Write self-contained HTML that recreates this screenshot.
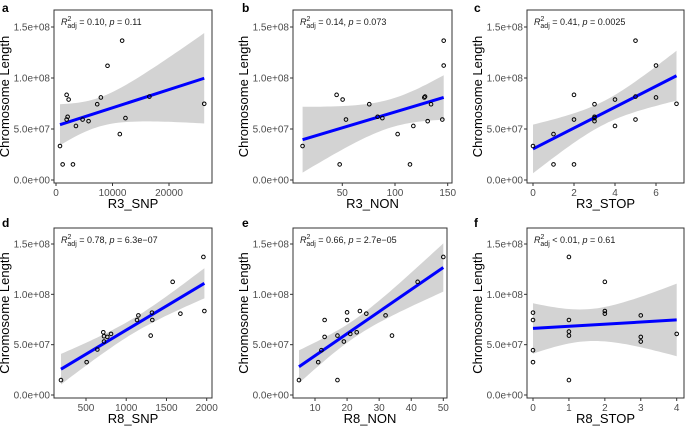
<!DOCTYPE html>
<html><head><meta charset="utf-8"><style>
body{margin:0;background:#fff}
svg{display:block;font-family:"Liberation Sans",Arial,sans-serif}
.tick{font-size:10px;fill:#4d4d4d}
.ttl{font-size:13px;fill:#000}
.ann{font-size:9px;fill:#1a1a1a}
.lbl{font-size:12px;font-weight:bold;fill:#000}
</style></head><body>
<svg id="chart" width="685" height="427"></svg>
<script>
const aX=[706,1176,1882,2235,1882,2059,3000,3529,4706,5765,7294,7941,9118,11294,11706,12294,16529,26235];
const aY=[33.3,15.3,83.5,78.9,59.3,62.0,15.3,53.0,59.3,57.7,74.3,80.9,112,45.0,136.6,60.7,81.8,74.7];
const bX=[12.3,44.6,47.5,50.3,53.5,75.6,83.5,88.0,102.5,114.2,117.4,127.8,128.5,131.0,134.2,144.9,146.2,146.2];
const bY=[33.3,83.5,15.3,78.9,59.3,74.3,62.0,60.7,45.0,15.3,53.0,80.9,81.8,57.7,74.3,59.3,136.6,112.2];
const cX=[0,1,1,2,2,2,3,3,3,3,4,4,5,5,5,6,6,7];
const cY=[33.3,45.0,15.3,83.5,59.3,15.3,74.3,62.0,60.7,57.7,78.9,53.0,136.6,81.8,59.3,112.2,80.9,74.7];
const dX=[189,508,641,715,724,724,765,811,1134,1151,1304,1320,1324,1577,1673,1959,1971];
const dY=[14.8,32.6,45.2,62.3,53.1,58.4,57.7,60.7,74.5,79.1,59.0,81.8,74.5,112.4,80.8,137.1,83.4];
const eX=[5,11,12,13,13,17,17,19,20,20,21,23,24,26,32,34,42,50];
const eY=[14.8,32.6,44.5,57.7,74.5,59.0,14.8,53.1,82.1,74.5,60.7,62.3,83.4,80.8,79.1,59.0,112.4,137.1];
const fX=[0,0,0,0,1,1,1,1,1,2,2,2,3,3,3,4];
const fY=[81.8,74.5,44.5,32.6,137.1,74.5,63.0,59.0,14.8,112.4,83.4,80.8,79.1,57.7,53.1,60.7];
const aTicks=[0,10000,20000], bTicks=[50,100,150], cTicks=[0,2,4,6];
const dTicks=[500,1000,1500,2000], eTicks=[10,20,30,40,50], fTicks=[0,1,2,3,4];
const yTicks=[0,50,100,150];
const yTickLabels=["0.0e+00","5.0e+07","1.0e+08","1.5e+08"];

const NS="http://www.w3.org/2000/svg";
const svg=document.getElementById('chart');
function mk(tag,attrs,parent,text){const e=document.createElementNS(NS,tag);for(const k in attrs)e.setAttribute(k,attrs[k]);if(text!==undefined)e.textContent=text;(parent||svg).appendChild(e);return e;}

const panels=[
 {id:'a',xs:aX,ys:aY,ticks:aTicks,title:'R3_SNP',r2:'= 0.10',p:'= 0.11',L:54,R:212,T:10,B:183,ax:[0,56,20000,169],y0:180,y150:27,lx:2,ly:12},
 {id:'b',xs:bX,ys:bY,ticks:bTicks,title:'R3_NON',r2:'= 0.14',p:'= 0.073',L:293,R:452,T:10,B:183,ax:[50,342.3,150,447.7],y0:180,y150:27,lx:242,ly:12},
 {id:'c',xs:cX,ys:cY,ticks:cTicks,title:'R3_STOP',r2:'= 0.41',p:'= 0.0025',L:527,R:684,T:10,B:183,ax:[0,533,6,656],y0:180,y150:27,lx:474,ly:12},
 {id:'d',xs:dX,ys:dY,ticks:dTicks,title:'R8_SNP',r2:'= 0.78',p:'= 6.3e\u221207',L:54,R:212,T:228,B:398,ax:[500,86,2000,206.7],y0:395,y150:244,lx:2,ly:227},
 {id:'e',xs:eX,ys:eY,ticks:eTicks,title:'R8_NON',r2:'= 0.66',p:'= 2.7e\u221205',L:293,R:447,T:228,B:398,ax:[10,315,50,443.3],y0:395,y150:244,lx:242,ly:227},
 {id:'f',xs:fX,ys:fY,ticks:fTicks,title:'R8_STOP',r2:'< 0.01',p:'= 0.61',L:527,R:684,T:228,B:398,ax:[0,533,4,676.7],y0:395,y150:244,lx:474,ly:227}
];

panels.forEach(P=>{
  const g=mk('g',{});  
  const sx=v=>P.ax[1]+(v-P.ax[0])*(P.ax[3]-P.ax[1])/(P.ax[2]-P.ax[0]);
  const sy=v=>P.y0+(v/150)*(P.y150-P.y0);
  const n=P.xs.length;
  const mx=P.xs.reduce((s,v)=>s+v,0)/n, my=P.ys.reduce((s,v)=>s+v,0)/n;
  let sxx=0,sxy=0; for(let i=0;i<n;i++){sxx+=(P.xs[i]-mx)**2;sxy+=(P.xs[i]-mx)*(P.ys[i]-my);}
  const b=sxy/sxx, a=my-b*mx;
  let sse=0; for(let i=0;i<n;i++){sse+=(P.ys[i]-a-b*P.xs[i])**2;}
  const s=Math.sqrt(sse/(n-2)), t=2.12;
  const xmin=Math.min(...P.xs), xmax=Math.max(...P.xs);
  const up=[],lo=[];
  for(let k=0;k<=40;k++){const x=xmin+(xmax-xmin)*k/40;const yh=a+b*x;const se=t*s*Math.sqrt(1/n+(x-mx)**2/sxx);
    up.push(sx(x).toFixed(1)+','+sy(yh+se).toFixed(1)); lo.unshift(sx(x).toFixed(1)+','+sy(yh-se).toFixed(1));}
  const band=mk('polygon',{points:up.concat(lo).join(' '),fill:'#d3d3d3'},g);
  
  
  const ln=mk('line',{x1:sx(xmin),y1:sy(a+b*xmin),x2:sx(xmax),y2:sy(a+b*xmax),stroke:'#0000ff','stroke-width':3},g);
  
  
  for(let i=0;i<n;i++){
    const c=mk('circle',{cx:sx(P.xs[i]),cy:sy(P.ys[i]),r:1.8,fill:'none',stroke:'#000','stroke-width':1},g);
    
    
  }
  const box=mk('rect',{x:P.L,y:P.T,width:P.R-P.L,height:P.B-P.T,fill:'none',stroke:'#333','stroke-width':1},g);
  
  
  yTicks.forEach((v,i)=>{
    mk('line',{x1:P.L-3,x2:P.L,y1:sy(v),y2:sy(v),stroke:'#333'},g);
    const tx=mk('text',{x:P.L-4,y:sy(v)+3.5,'text-anchor':'end',class:'tick'},g,yTickLabels[i]);
    
    
  });
  P.ticks.forEach(v=>{
    mk('line',{x1:sx(v),x2:sx(v),y1:P.B,y2:P.B+3,stroke:'#333'},g);
    const tx=mk('text',{x:sx(v),y:P.B+13,'text-anchor':'middle',class:'tick'},g,String(v));
    
    
  });
  const xt=mk('text',{x:(P.L+P.R)/2,y:P.B+25,'text-anchor':'middle',class:'ttl'},g,P.title);
  
  
  const ycx=P.L-45, ycy=(P.T+P.B)/2;
  const yt=mk('text',{x:ycx,y:ycy,transform:`rotate(-90 ${ycx} ${ycy})`,'text-anchor':'middle',class:'ttl'},g,'Chromosome Length');
  
  
  const lb=mk('text',{x:P.lx,y:P.ly,class:'lbl'},g,P.id);
  
  
  const an=mk('text',{x:P.L+7,y:P.T+15,class:'ann'},g);
  
  
  mk('tspan',{'font-style':'italic'},an,'R');
  mk('tspan',{dy:-4,'font-size':'7px'},an,'2');
  mk('tspan',{dx:-4,dy:7,'font-size':'7px'},an,'adj');
  mk('tspan',{dy:-3},an,' '+P.r2+', ');
  mk('tspan',{'font-style':'italic'},an,'p');
  mk('tspan',{},an,' '+P.p);
});
</script>
</body></html>
